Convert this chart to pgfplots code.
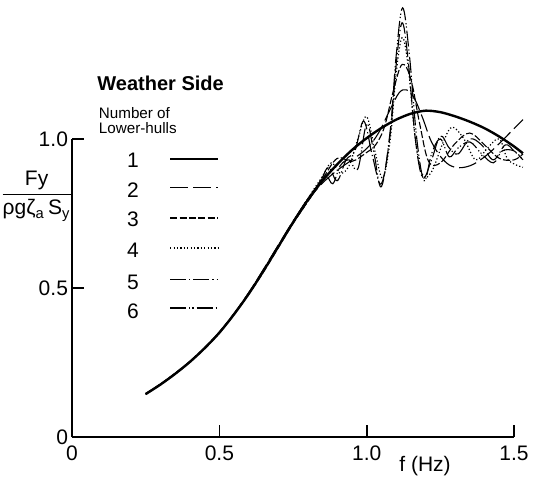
\documentclass[border=0pt]{standalone}
\usepackage{fontspec}
\setmainfont{Liberation Sans}
\setsansfont{Liberation Sans}
\usepackage{amsmath}
\usepackage{pgfplots}
\pgfplotsset{compat=1.18}
\begin{document}
\begin{tikzpicture}
\useasboundingbox (-36pt,-22pt) rectangle (230.5pt,218.5pt);
\begin{axis}[
  at={(0,0)}, anchor=south west,
  x=147.35pt, y=149pt,
  xmin=0, xmax=1.5, ymin=0, ymax=1.0,
  axis x line=bottom, axis y line=left,
  axis line style={-, line width=1pt, black},
  every outer x axis line/.append style={-},
  every outer y axis line/.append style={-},
  clip=false,
  xtick={0,0.5,1.0,1.5}, xticklabels={0,0.5,1.0,1.5},
  ytick={0,0.5,1.0}, yticklabels={0,0.5,1.0},
  tick align=inside, major tick length=6pt,
  tick style={line width=0.8pt, black},
  ticklabel style={font=\fontsize{10.5}{12}\selectfont},
  xticklabel style={yshift=-1pt},
  yticklabel style={xshift=1.5pt},
]
% 1 lower-hull (solid)
\addplot[black, line width=1.2pt, smooth] coordinates {
(0.25,0.144)(0.30,0.176)(0.35,0.212)(0.40,0.252)(0.45,0.298)(0.50,0.350)
(0.55,0.412)(0.60,0.481)(0.65,0.558)(0.70,0.639)(0.75,0.720)(0.80,0.795)
(0.85,0.860)(0.90,0.915)(0.95,0.963)(1.00,1.003)(1.05,1.037)(1.10,1.065)
(1.15,1.085)(1.20,1.095)(1.25,1.090)(1.30,1.076)(1.35,1.058)(1.40,1.036)
(1.45,1.008)(1.50,0.975)(1.53,0.952)};
% 2 (long dash)
\addplot[black, line width=0.55pt, smooth, tension=0.6, dash pattern=on 9pt off 2.5pt] coordinates {
(0.25,0.144)(0.30,0.177)(0.35,0.213)(0.40,0.253)(0.45,0.299)(0.50,0.352)
(0.55,0.415)(0.60,0.485)(0.65,0.563)(0.70,0.644)(0.75,0.724)(0.80,0.795)
(0.85,0.852)(0.90,0.895)(0.95,0.930)(1.00,0.968)(1.04,1.020)(1.08,1.100)
(1.11,1.155)(1.135,1.165)(1.16,1.140)(1.19,1.070)(1.22,0.990)(1.26,0.930)
(1.30,0.905)(1.35,0.910)(1.40,0.940)(1.45,0.985)(1.50,1.035)(1.53,1.065)};
% 3 (dashed)
\addplot[black, line width=0.55pt, smooth, tension=0.6, dash pattern=on 3.5pt off 1.2pt] coordinates {
(0.25,0.146)(0.30,0.178)(0.35,0.214)(0.40,0.254)(0.45,0.300)(0.50,0.352)
(0.55,0.413)(0.60,0.479)(0.65,0.554)(0.70,0.635)(0.75,0.716)(0.80,0.790)
(0.85,0.865)(0.90,0.935)(0.95,0.925)(1.00,0.955)(1.03,0.980)(1.06,1.040)
(1.09,1.160)(1.12,1.250)(1.15,1.200)(1.18,1.050)(1.21,0.925)(1.25,0.920)
(1.30,0.985)(1.35,1.020)(1.40,0.980)(1.45,0.935)(1.50,0.930)(1.53,0.950)};
% 4 (dotted)
\addplot[black, line width=0.6pt, smooth, tension=0.6, dash pattern=on 0.6pt off 1.1pt] coordinates {
(0.25,0.143)(0.30,0.175)(0.35,0.211)(0.40,0.251)(0.45,0.297)(0.50,0.349)
(0.55,0.411)(0.60,0.480)(0.65,0.557)(0.70,0.640)(0.75,0.722)(0.80,0.800)
(0.85,0.875)(0.88,0.920)(0.91,0.885)(0.94,0.910)(0.97,1.000)(1.00,1.075)
(1.03,0.950)(1.055,0.870)(1.08,1.000)(1.10,1.220)(1.12,1.340)(1.14,1.250)
(1.165,1.000)(1.19,0.880)(1.22,0.890)(1.26,0.990)(1.29,1.040)(1.33,1.000)
(1.37,0.930)(1.41,0.970)(1.45,1.000)(1.48,0.930)(1.53,0.905)};
% 5 (dash-dot)
\addplot[black, line width=0.55pt, smooth, tension=0.6, dash pattern=on 8pt off 1.5pt on 0.6pt off 1.5pt] coordinates {
(0.25,0.145)(0.30,0.177)(0.35,0.212)(0.40,0.252)(0.45,0.298)(0.50,0.351)
(0.55,0.413)(0.60,0.482)(0.65,0.560)(0.70,0.641)(0.75,0.718)(0.80,0.790)
(0.84,0.850)(0.87,0.905)(0.90,0.860)(0.93,0.930)(0.96,0.960)(0.99,1.060)
(1.02,0.940)(1.05,0.850)(1.08,1.020)(1.10,1.250)(1.12,1.390)(1.14,1.270)
(1.165,1.000)(1.19,0.870)(1.22,0.930)(1.25,1.010)(1.28,0.970)(1.31,0.950)
(1.35,1.000)(1.39,0.980)(1.43,0.930)(1.47,0.980)(1.50,0.960)(1.53,0.930)};
% 6 (dash-dot-dot)
\addplot[black, line width=0.55pt, smooth, tension=0.6, dash pattern=on 8pt off 1.5pt on 0.6pt off 1pt on 0.6pt off 1.5pt] coordinates {
(0.25,0.144)(0.30,0.176)(0.35,0.213)(0.40,0.253)(0.45,0.298)(0.50,0.350)
(0.55,0.413)(0.60,0.483)(0.65,0.561)(0.70,0.642)(0.75,0.722)(0.80,0.800)
(0.83,0.840)(0.86,0.880)(0.885,0.850)(0.91,0.910)(0.94,0.930)(0.97,0.900)
(1.00,1.050)(1.025,0.950)(1.05,0.840)(1.08,1.030)(1.10,1.280)(1.122,1.440)
(1.145,1.280)(1.17,1.000)(1.195,0.860)(1.22,0.950)(1.25,1.000)(1.28,0.940)
(1.31,0.970)(1.35,0.990)(1.39,0.950)(1.43,0.920)(1.46,0.960)(1.50,0.960)(1.53,0.930)};

% legend
\node[anchor=west, inner sep=0pt, font=\fontsize{10}{12}\selectfont\bfseries] at (axis cs:0.085,1.188) {Weather Side};
\node[anchor=west, font=\fontsize{7.6}{9}\selectfont, align=left, inner sep=0pt] at (axis cs:0.090,1.062) {Number of\\[-1.5pt]Lower-hulls};
\foreach \n/\yy/\ly/\sty in {1/0.930/0.933/{line width=1.1pt},
  2/0.829/0.836/{line width=0.55pt, dash pattern=on 9pt off 2.5pt},
  3/0.732/0.735/{line width=0.55pt, dash pattern=on 3.5pt off 1.2pt},
  4/0.628/0.634/{line width=0.6pt, dash pattern=on 0.6pt off 1.1pt},
  5/0.520/0.530/{line width=0.55pt, dash pattern=on 8pt off 1.5pt on 0.6pt off 1.5pt},
  6/0.423/0.433/{line width=0.55pt, dash pattern=on 8pt off 1.5pt on 0.6pt off 1pt on 0.6pt off 1.5pt}}{
  \edef\tmp{\noexpand\node[font=\noexpand\fontsize{10.5}{12}\noexpand\selectfont] at (axis cs:0.207,\yy) {\n};}\tmp
  \edef\tmp{\noexpand\draw[black, \sty] (axis cs:0.333,\ly) -- (axis cs:0.495,\ly);}\tmp
}
% axis labels
\node[font=\fontsize{10.5}{12}\selectfont] at (axis cs:1.198,-0.097) {f (Hz)};
\node[font=\fontsize{10.5}{12}\selectfont] at (axis cs:-0.120,0.809)
  {$\dfrac{\mbox{Fy}}{\mbox{ρgζ\textsubscript{a}\,S\textsubscript{y}}}$};
\end{axis}
\end{tikzpicture}
\end{document}
